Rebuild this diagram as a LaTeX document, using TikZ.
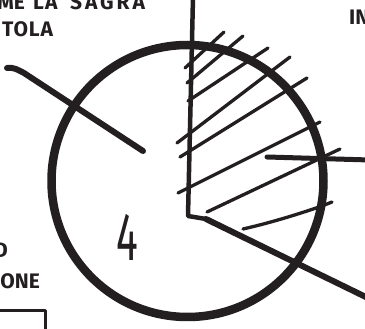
\documentclass[tikz,border=0pt]{standalone}
\usepackage{fontspec}
\setmainfont{Fira Sans}
\definecolor{inkc}{HTML}{231F20}
\begin{document}
\begin{tikzpicture}[x=1pt,y=-1pt,
  ink/.style={draw=inkc, line cap=round, line join=round},
  hatch/.style={ink, line width=3.3pt},
  lettering/.style={inkc, inner sep=0pt, font=\bfseries\fontsize{21}{25}\selectfont}]
\useasboundingbox (0,0) rectangle (365,329);
% main circle
\coordinate (C) at (187.5,181);
\draw[ink, line width=8.5pt] (C) circle[radius=136];
% upper-left stroke
\coordinate (ul1) at (7,68);
\coordinate (ul2) at (143,151);
\draw[ink, line width=6pt] (ul1) .. controls (14,67) and (18,70) .. (24,73) -- (ul2);
% vertical line and corner
\coordinate (vt) at (193,-3);
\coordinate (vb) at (188,216);
\coordinate (k1) at (206,219);
\coordinate (k2) at (372,300);
\draw[ink, line width=4.5pt] (vt) -- (vb) -- (k1);
\draw[ink, line width=6pt] (k1) -- (k2);
% right horizontal line
\coordinate (h1) at (267,157);
\coordinate (h2) at (370,160);
\draw[ink, line width=5pt] (h1) -- (h2);
% hatching
\draw[hatch] (185,68) -- (224,32);
\draw[hatch] (187,83) -- (243,36);
\draw[hatch] (188,101) -- (268,48);
\draw[hatch] (177,143) -- (290,57);
\draw[hatch] (180,157) -- (307,78);
\draw[hatch] (178,193) -- (320,122);
\draw[hatch] (207,212) -- (340,149);
\draw[hatch] (243,229) .. controls (265,224) and (290,217) .. (322,206) -- (332,202);
% box at bottom left
\coordinate (b1) at (-3,311);
\coordinate (b2) at (45,311);
\coordinate (b3) at (45,333);
\draw[ink, line width=3pt] (b1) -- (b2) -- (b3);
% texts
\node[lettering, anchor=base east] (t1) at (25,9.3) {COME};
\node[lettering, anchor=base west] (t2) at (33,9.3) {\addfontfeature{LetterSpace=6}LA};
\node[lettering, anchor=base west] (t3) at (70,9.3) {\addfontfeature{LetterSpace=14}SAGRA};
\node[lettering, anchor=base west] (t4) at (2,37) {\addfontfeature{LetterSpace=4}TOLA};
\node[lettering, anchor=base west] (t5) at (349,25) {IN};
\node[lettering, anchor=base east] (t6) at (8,258) {D};
\node[lettering, anchor=base east] (t7) at (40,288) {ONE};
\node[inkc, inner sep=0pt, xscale=0.6, font=\fontsize{68}{70}\selectfont] (four) at (127,237) {4};
\end{tikzpicture}
\end{document}
